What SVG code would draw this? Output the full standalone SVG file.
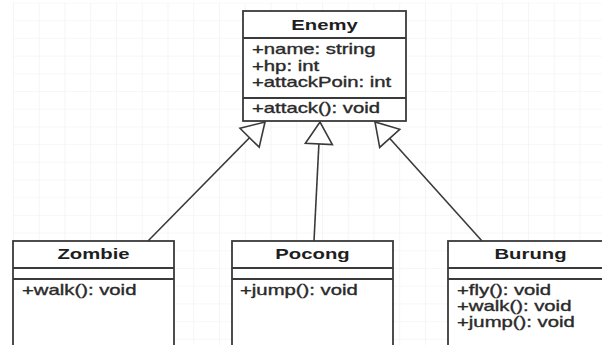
<svg xmlns="http://www.w3.org/2000/svg" width="602" height="345" viewBox="0 0 602 345">
  <style>
    .box { fill: #ffffff; stroke: #3a3a3a; stroke-width: 1.8; }
    .sep { stroke: #3a3a3a; stroke-width: 1.8; }
    .title { font-family: "Liberation Sans", Arial, sans-serif; font-size: 14px; font-weight: bold; fill: #1e1e1e; text-anchor: middle; }
    .member { font-family: "Liberation Sans", Arial, sans-serif; font-size: 14px; fill: #2a2a2a; stroke: #2a2a2a; stroke-width: 0.35; }
    .edge { fill: none; stroke: #3a3a3a; stroke-width: 1.6; }
  </style>
  <defs>
    <pattern id="grid" x="13" y="2.5" width="25.75" height="17.7" patternUnits="userSpaceOnUse">
      <path d="M0,0 V17.7 M0,0 H25.75" fill="none" stroke="#efefef" stroke-width="1.2"/>
    </pattern>
    <!-- hollow triangle for generalization -->
    <marker id="inherit" markerUnits="userSpaceOnUse" markerWidth="26" markerHeight="30" refX="22" refY="13.5" orient="auto" overflow="visible">
      <path d="M0,0 L22,13.5 L0,27 Z" fill="#ffffff" stroke="#3a3a3a" stroke-width="1.6" stroke-linejoin="miter"/>
    </marker>
  </defs>

  <rect width="602" height="345" fill="#ffffff"/>
  <rect x="13" y="2.5" width="589" height="342.5" fill="url(#grid)"/>

  <g id="connectors">
    <path class="edge" d="M148,241 L265,122" marker-end="url(#inherit)"/>
    <path class="edge" d="M314,241 L320,122" marker-end="url(#inherit)"/>
    <path class="edge" d="M482,241 L375,122" marker-end="url(#inherit)"/>
  </g>

  <g id="enemy">
    <rect class="box" x="243" y="11" width="163" height="110"/>
    <line class="sep" x1="243" y1="38" x2="406" y2="38"/>
    <line class="sep" x1="243" y1="98" x2="406" y2="98"/>
    <text class="title" transform="translate(324.5,30) scale(1.45,1)">Enemy</text>
    <text class="member" transform="translate(252,54) scale(1.45,1)">+name: string</text>
    <text class="member" transform="translate(252,70.5) scale(1.45,1)">+hp: int</text>
    <text class="member" transform="translate(252,87) scale(1.45,1)">+attackPoin: int</text>
    <text class="member" transform="translate(252,113) scale(1.45,1)">+attack(): void</text>
  </g>

  <g id="zombie">
    <rect class="box" x="13" y="241" width="161" height="120"/>
    <line class="sep" x1="13" y1="268" x2="174" y2="268"/>
    <line class="sep" x1="13" y1="279" x2="174" y2="279"/>
    <text class="title" transform="translate(93.5,259) scale(1.45,1)">Zombie</text>
    <text class="member" transform="translate(22,295) scale(1.45,1)">+walk(): void</text>
  </g>

  <g id="pocong">
    <rect class="box" x="232" y="241" width="161" height="120"/>
    <line class="sep" x1="232" y1="268" x2="393" y2="268"/>
    <line class="sep" x1="232" y1="279" x2="393" y2="279"/>
    <text class="title" transform="translate(312.5,259) scale(1.45,1)">Pocong</text>
    <text class="member" transform="translate(240,295) scale(1.45,1)">+jump(): void</text>
  </g>

  <g id="burung">
    <rect class="box" x="448" y="241" width="165" height="120"/>
    <line class="sep" x1="448" y1="268" x2="613" y2="268"/>
    <line class="sep" x1="448" y1="279" x2="613" y2="279"/>
    <text class="title" transform="translate(530.5,259) scale(1.45,1)">Burung</text>
    <text class="member" transform="translate(457,295) scale(1.45,1)">+fly(): void</text>
    <text class="member" transform="translate(457,311) scale(1.45,1)">+walk(): void</text>
    <text class="member" transform="translate(457,327) scale(1.45,1)">+jump(): void</text>
  </g>
</svg>
